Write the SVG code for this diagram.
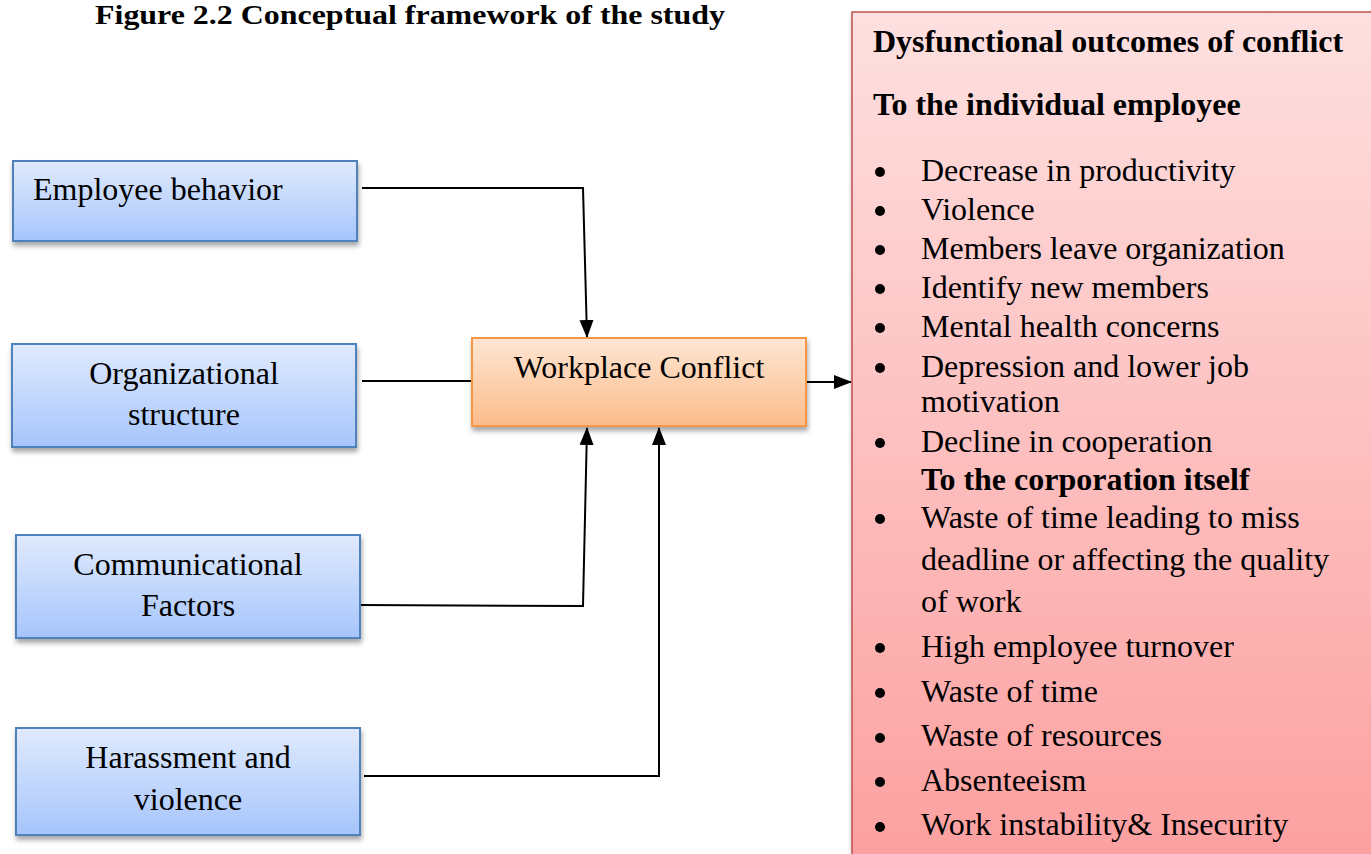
<svg xmlns="http://www.w3.org/2000/svg" width="1371" height="854" viewBox="0 0 1371 854">
<style>
text{font-family:"Liberation Serif","Times New Roman",serif;fill:#000}
.t{font-size:32px}
.b{font-size:32px;font-weight:bold}
.blue{fill:url(#gBlue);stroke:#4f81bd;stroke-width:2}
.orange{fill:url(#gOrange);stroke:#f79646;stroke-width:2}
.pink{fill:url(#gPink);stroke:#c0504d;stroke-width:1.5}
.c{fill:none;stroke:#000;stroke-width:2}
</style>
<defs>
<linearGradient id="gBlue" x1="0" y1="0" x2="0" y2="1"><stop offset="0" stop-color="#e0eafd"/><stop offset="1" stop-color="#a6c5fc"/></linearGradient>
<linearGradient id="gOrange" x1="0" y1="0" x2="0" y2="1"><stop offset="0" stop-color="#fee6d3"/><stop offset="1" stop-color="#fcbc8a"/></linearGradient>
<linearGradient id="gPink" x1="0" y1="0" x2="0" y2="1"><stop offset="0" stop-color="#fee0e0"/><stop offset="1" stop-color="#fc9f9f"/></linearGradient>
<filter id="sh" x="-5%" y="-5%" width="110%" height="125%"><feDropShadow dx="1" dy="4" stdDeviation="2.5" flood-color="#000" flood-opacity="0.35"/></filter>
<marker id="ah2" markerWidth="18" markerHeight="16" refX="17" refY="8" orient="auto" markerUnits="userSpaceOnUse" viewBox="0 0 18 16"><path d="M0,1 L18,8 L0,15 z" fill="#000"/></marker>
</defs>
<rect width="1371" height="854" fill="#fff"/>
<text x="410" y="24" class="b" style="font-size:28px" text-anchor="middle" textLength="630" lengthAdjust="spacingAndGlyphs">Figure 2.2 Conceptual framework of the study</text>

<g id="connectors">
<polyline class="c" points="362,188 583,188 587,337" marker-end="url(#ah2)"/>
<line class="c" x1="362" y1="381" x2="472" y2="381"/>
<polyline class="c" points="360,605 583,606 587,428" marker-end="url(#ah2)"/>
<polyline class="c" points="364,776 659,776 659,428" marker-end="url(#ah2)"/>
<line class="c" x1="806" y1="382" x2="851" y2="382" marker-end="url(#ah2)"/>
</g>

<g id="employee-behavior">
<rect class="blue" x="13" y="161" width="344" height="80" filter="url(#sh)"/>
<text class="t" x="33" y="200">Employee behavior</text>
</g>
<g id="organizational-structure">
<rect class="blue" x="12" y="344" width="344" height="103" filter="url(#sh)"/>
<text class="t" x="184" y="384" text-anchor="middle">Organizational</text>
<text class="t" x="184" y="425" text-anchor="middle">structure</text>
</g>
<g id="communicational-factors">
<rect class="blue" x="16" y="535" width="344" height="103" filter="url(#sh)"/>
<text class="t" x="188" y="575" text-anchor="middle">Communicational</text>
<text class="t" x="188" y="616" text-anchor="middle">Factors</text>
</g>
<g id="harassment-violence">
<rect class="blue" x="16" y="728" width="344" height="107" filter="url(#sh)"/>
<text class="t" x="188" y="768" text-anchor="middle">Harassment and</text>
<text class="t" x="188" y="810" text-anchor="middle">violence</text>
</g>
<g id="workplace-conflict">
<rect class="orange" x="472" y="338" width="334" height="88" filter="url(#sh)"/>
<text class="t" x="639" y="378" text-anchor="middle">Workplace Conflict</text>
</g>

<g id="outcomes">
<rect class="pink" x="852" y="12" width="530" height="860" filter="url(#sh)"/>
<text class="b" x="873" y="52">Dysfunctional outcomes of conflict</text>
<text class="b" x="873" y="115">To the individual employee</text>
<g fill="#000">
<circle cx="880" cy="172" r="5"/>
<circle cx="880" cy="211" r="5"/>
<circle cx="880" cy="250" r="5"/>
<circle cx="880" cy="289" r="5"/>
<circle cx="880" cy="328" r="5"/>
<circle cx="880" cy="368" r="5"/>
<circle cx="880" cy="443" r="5"/>
<circle cx="880" cy="519" r="5"/>
<circle cx="880" cy="648" r="5"/>
<circle cx="880" cy="693" r="5"/>
<circle cx="880" cy="738" r="5"/>
<circle cx="880" cy="782" r="5"/>
<circle cx="880" cy="827" r="5"/>
</g>
<text class="t" x="921" y="181">Decrease in productivity</text>
<text class="t" x="921" y="220">Violence</text>
<text class="t" x="921" y="259">Members leave organization</text>
<text class="t" x="921" y="298">Identify new members</text>
<text class="t" x="921" y="337">Mental health concerns</text>
<text class="t" x="921" y="377">Depression and lower job</text>
<text class="t" x="921" y="412">motivation</text>
<text class="t" x="921" y="452">Decline in cooperation</text>
<text class="b" x="921" y="490">To the corporation itself</text>
<text class="t" x="921" y="528">Waste of time leading to miss</text>
<text class="t" x="921" y="570">deadline or affecting the quality</text>
<text class="t" x="921" y="612">of work</text>
<text class="t" x="921" y="657">High employee turnover</text>
<text class="t" x="921" y="702">Waste of time</text>
<text class="t" x="921" y="746">Waste of resources</text>
<text class="t" x="921" y="791">Absenteeism</text>
<text class="t" x="921" y="835">Work instability&amp; Insecurity</text>
</g>
</svg>
